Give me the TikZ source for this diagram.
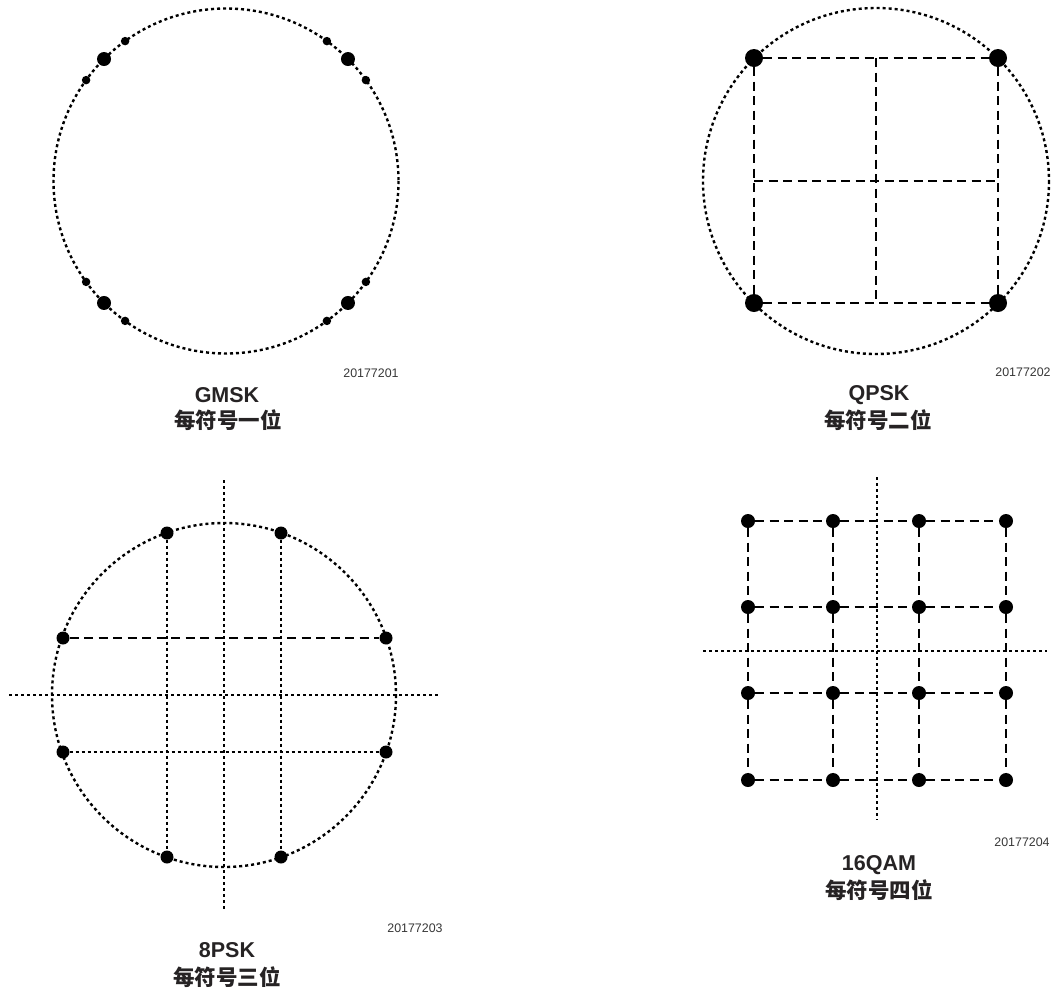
\documentclass[tikz,border=0pt]{standalone}
\usepackage{fontspec}
\setmainfont{Liberation Sans}
\newfontfamily\cjk{Noto Sans CJK SC}
\usetikzlibrary{calc}
\definecolor{txtgray}{RGB}{38,35,36}
\definecolor{numgray}{RGB}{55,55,55}
\tikzset{
  dotline/.style={line width=2.4pt, dash pattern=on 3pt off 3pt},
  dashline/.style={line width=2.4pt, dash pattern=on 9pt off 5.5pt},
  dotnode/.style={circle, fill=black, draw=none, inner sep=0pt, minimum size=#1},
  numlbl/.style={inner sep=0pt, text=numgray, font=\fontsize{12.4}{14}\selectfont},
  titlelbl/.style={inner sep=0pt, text=txtgray, font=\fontsize{21.5}{24}\selectfont\bfseries},
  cnlbl/.style={inner sep=0pt, text=txtgray, font=\fontsize{21.5}{24}\selectfont\cjk\bfseries},
}
\begin{document}
\begin{tikzpicture}[x=1pt,y=-1pt]
\useasboundingbox (0,0) rectangle (1055,989);

% ---------------- GMSK ----------------
\coordinate (g0) at (226,181);
\draw[dotline] (g0) circle (172.5);
\foreach \a/\n in {45/1,135/2,225/3,315/4}{
  \node[dotnode=14pt] (gL\n) at ($(g0)+(\a:172.5)$) {};
  \node[dotnode=8.5pt] (gSa\n) at ($(g0)+(\a+9.2:172.5)$) {};
  \node[dotnode=8.5pt] (gSb\n) at ($(g0)+(\a-9.2:172.5)$) {};
}
\node[numlbl] (gnum) at (371,373) {20177201};
\node[titlelbl] (gtit) at (227,395) {GMSK};
\node[cnlbl] (gcn) at (228,420) {每符号一位};

% ---------------- QPSK ----------------
\coordinate (q0) at (876,181);
\draw[dotline] (q0) circle (173);
\node[dotnode=18pt] (q1) at (754,58) {};
\node[dotnode=18pt] (q2) at (998,58) {};
\node[dotnode=18pt] (q3) at (754,303) {};
\node[dotnode=18pt] (q4) at (998,303) {};
\coordinate (qt) at (876,58);
\coordinate (qb) at (876,303);
\coordinate (ql) at (754,181);
\coordinate (qr) at (998,181);
\draw[dashline] (q1) -- (q2);
\draw[dashline] (q2) -- (q4);
\draw[dashline] (q3) -- (q4);
\draw[dashline] (q1) -- (q3);
\draw[dashline] (qt) -- (qb);
\draw[dashline] (ql) -- (qr);
\node[numlbl] (qnum) at (1023,372) {20177202};
\node[titlelbl] (qtit) at (879,395) {QPSK};
\node[cnlbl] (qcn) at (878,420) {每符号二位};

% ---------------- 8PSK ----------------
\coordinate (p0) at (224,695);
\coordinate (pax1) at (9,695);
\coordinate (pax2) at (438,695);
\coordinate (pay1) at (224,480);
\coordinate (pay2) at (224,910);
\draw[dotline] (p0) circle (172);
\draw[dotline] (pax1) -- (pax2);
\draw[dotline] (pay1) -- (pay2);
\node[dotnode=13pt] (p1) at (167,533) {};
\node[dotnode=13pt] (p2) at (281,533) {};
\node[dotnode=13pt] (p3) at (63,638) {};
\node[dotnode=13pt] (p4) at (386,638) {};
\node[dotnode=13pt] (p5) at (63,752) {};
\node[dotnode=13pt] (p6) at (386,752) {};
\node[dotnode=13pt] (p7) at (167,857) {};
\node[dotnode=13pt] (p8) at (281,857) {};
\draw[dotline] (p1) -- (p7);
\draw[dotline] (p2) -- (p8);
\draw[dashline] (p3) -- (p4);
\draw[dotline] (p5) -- (p6);
\node[numlbl] (pnum) at (415,928) {20177203};
\node[titlelbl] (ptit) at (227,950) {8PSK};
\node[cnlbl] (pcn) at (227,977) {每符号三位};

% ---------------- 16QAM ----------------
\coordinate (mx1) at (703,651);
\coordinate (mx2) at (1047,651);
\coordinate (my1) at (877,477);
\coordinate (my2) at (877,820);
\draw[dotline] (mx1) -- (mx2);
\draw[dotline] (my1) -- (my2);
\foreach \r/\yy in {1/521,2/607,3/693,4/780}{
  \foreach \c/\xx in {1/748,2/833,3/919,4/1006}{
    \node[dotnode=14pt] (m\r\c) at (\xx,\yy) {};
  }
}
\foreach \r in {1,2,3,4}{
  \draw[dashline] (m\r1) -- (m\r2) -- (m\r3) -- (m\r4);
  \draw[dashline] (m1\r) -- (m2\r) -- (m3\r) -- (m4\r);
}
\node[numlbl] (mnum) at (1022,842) {20177204};
\node[titlelbl] (mtit) at (879,865) {16QAM};
\node[cnlbl] (mcn) at (879,890) {每符号四位};
\end{tikzpicture}
\end{document}
